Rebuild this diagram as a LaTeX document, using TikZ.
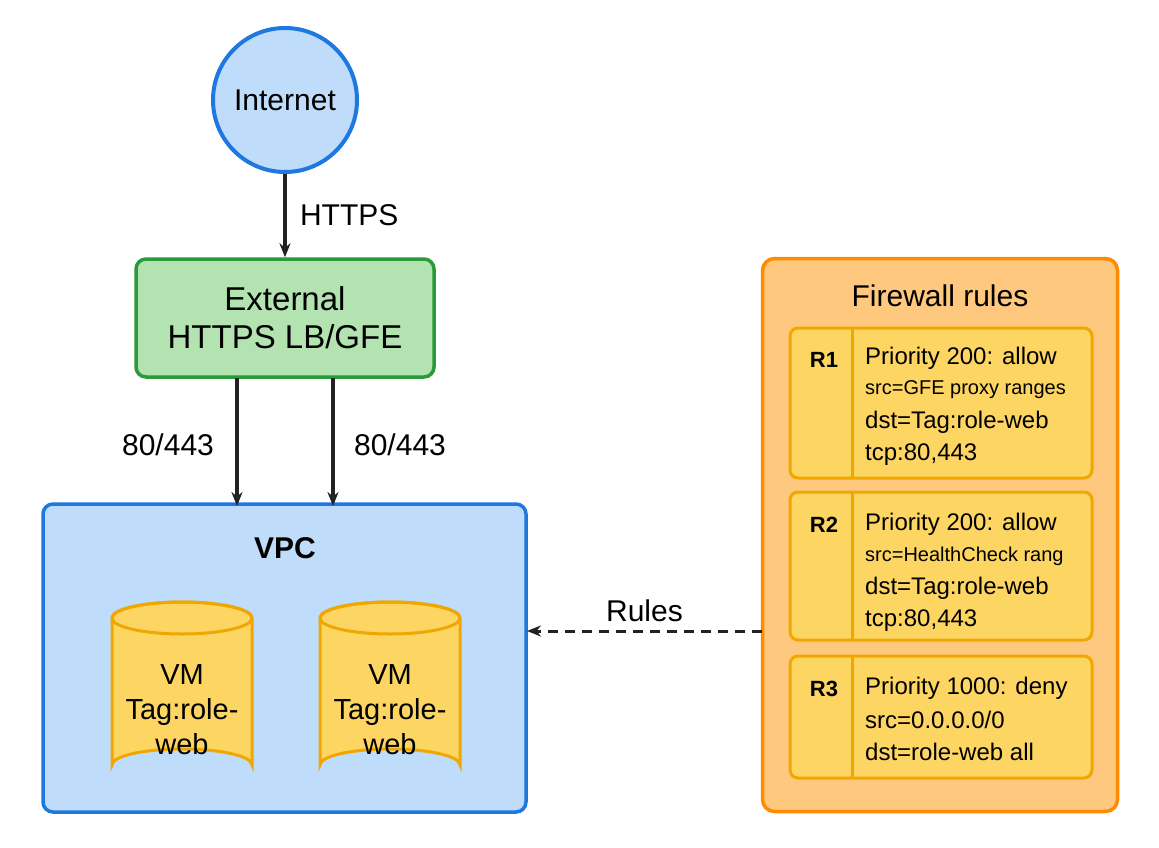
\documentclass[tikz,border=0pt]{standalone}
\usepackage{fontspec}
\setmainfont{Liberation Sans}
\usetikzlibrary{shapes.geometric,arrows.meta}
\definecolor{bfill}{HTML}{BFDCFB}\definecolor{bline}{HTML}{1F77E0}
\definecolor{gfill}{HTML}{B3E3B0}\definecolor{gline}{HTML}{2A9A3A}
\definecolor{yfill}{HTML}{FDD563}\definecolor{yline}{HTML}{F0A800}
\definecolor{ofill}{HTML}{FEC97E}\definecolor{oline}{HTML}{FF8C00}
\definecolor{ink}{HTML}{222222}
\newcommand{\fs}[1]{\fontsize{#1}{1.2\dimexpr#1pt\relax}\selectfont}
\newcommand{\mycyl}[1]{%
 \path[draw=yline,fill=yfill,line width=3pt] (#1-70,618) -- (#1-70,765) arc[start angle=180,end angle=360,x radius=70,y radius=16] -- (#1+70,618) arc[start angle=0,end angle=-180,x radius=70,y radius=16] -- cycle;
 \draw[yline,line width=3pt] (#1,618) ellipse[x radius=70,y radius=16];}
\tikzset{
 arr/.style={draw=ink,line width=3.5pt,-{Stealth[length=14pt,width=11pt]}},
 rule/.style={draw=yline,fill=yfill,line width=3pt,rounded corners=8pt},
 rt/.style={anchor=west,inner sep=0pt,font=\fs{24}},
 cylt/.style={align=center,font=\fontsize{29}{35}\selectfont}
}
\begin{document}
\begin{tikzpicture}[x=1pt,y=-1pt]
\useasboundingbox[fill=white] (0,0) rectangle (1159,848);
\node[circle,draw=bline,fill=bfill,line width=4pt,minimum size=144pt,font=\fs{30}] (inet) at (285,100) {Internet};
\node[draw=gline,fill=gfill,line width=3.5pt,rounded corners=10pt,minimum width=298pt,minimum height=118pt,align=center,font=\fontsize{33}{38}\selectfont] (lb) at (285,318) {External\\HTTPS LB/GFE};
\draw[arr] (inet) -- node[right=10pt,font=\fs{30}]{HTTPS} (lb);
\node[draw=bline,fill=bfill,line width=3.5pt,rounded corners=10pt,minimum width=483pt,minimum height=308pt] (vpc) at (284.5,658) {};
\node[font=\bfseries\fs{30}] (vpct) at (285,548) {VPC};
\coordinate (a1) at (237,378); \coordinate (b1) at (237,506);
\coordinate (a2) at (333,378); \coordinate (b2) at (333,506);
\draw[arr] (a1) -- (b1); \draw[arr] (a2) -- (b2);
\node[font=\fs{30}] (l1) at (168,445) {80/443};
\node[font=\fs{30}] (l2) at (400,445) {80/443};
\mycyl{182}
\mycyl{390}
\node[cylt] (t1) at (182,710) {VM\\Tag:role-\\web};
\node[cylt] (t2) at (390,710) {VM\\Tag:role-\\web};
\node[draw=oline,fill=ofill,line width=3.5pt,rounded corners=12pt,minimum width=355pt,minimum height=553pt] (fw) at (940,535) {};
\node[font=\fs{30}] (fwt) at (940,296) {Firewall rules};
\node[rule,minimum width=302pt,minimum height=150pt] (r1) at (941,403) {};
\node[rule,minimum width=302pt,minimum height=148pt] (r2) at (941,566) {};
\node[rule,minimum width=302pt,minimum height=122pt] (r3) at (941,717) {};
\draw[yline,line width=3pt] (852,328)--(852,478) (852,492)--(852,640) (852,656)--(852,778);
\node[font=\bfseries\fs{22}] at (824,360) {R1};
\node[font=\bfseries\fs{22}] at (824,525) {R2};
\node[font=\bfseries\fs{22}] at (824,689) {R3};
\node[rt] at (865,358) {Priority 200: allow};
\node[rt,font=\fs{20}] at (865,390) {src=GFE proxy ranges};
\node[rt] at (865,422) {dst=Tag:role-web};
\node[rt] at (865,455) {tcp:80,443};
\node[rt] at (865,524) {Priority 200: allow};
\node[rt,font=\fs{20}] at (865,556) {src=HealthCheck rang};
\node[rt] at (865,588) {dst=Tag:role-web};
\node[rt] at (865,621) {tcp:80,443};
\node[rt] at (865,688) {Priority 1000: deny};
\node[rt] at (865,720) {src=0.0.0.0/0};
\node[rt] at (865,752) {dst=role-web all};
\coordinate (fwl) at (762,631); \coordinate (vr) at (527,631);
\draw[arr,line width=3pt,dash pattern=on 10pt off 7pt] (fwl) -- node[above=4pt,font=\fs{30}]{Rules} (vr);
\end{tikzpicture}
\end{document}
